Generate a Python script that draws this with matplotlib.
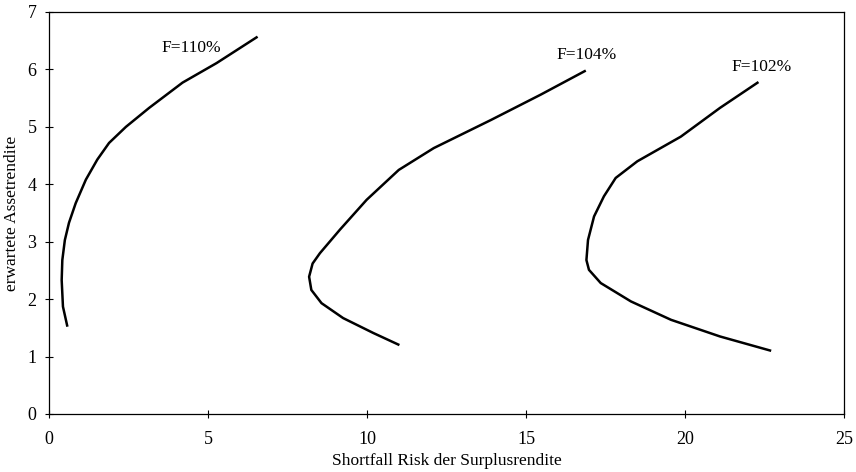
import matplotlib
matplotlib.use("Agg")
import matplotlib.pyplot as plt

plt.rcParams['font.family'] = ['Liberation Serif', 'DejaVu Serif']

# F=110%
x110 = [0.58, 0.44, 0.40, 0.42, 0.50, 0.63, 0.84, 1.16, 1.52, 1.89, 2.42, 3.15, 4.20, 5.27, 6.56]
y110 = [1.52, 1.87, 2.33, 2.68, 3.03, 3.33, 3.67, 4.08, 4.43, 4.72, 5.00, 5.33, 5.77, 6.11, 6.57]

# F=104%
x104 = [11.02, 10.2, 9.25, 8.57, 8.25, 8.18, 8.29, 8.52, 9.15, 9.99, 11.0, 12.1, 13.9, 15.46, 16.88]
y104 = [1.20, 1.41, 1.67, 1.93, 2.16, 2.39, 2.62, 2.80, 3.21, 3.73, 4.25, 4.63, 5.12, 5.56, 5.98]

# F=102%
x102 = [22.71, 21.1, 19.56, 18.3, 17.35, 16.98, 16.9, 16.95, 17.14, 17.45, 17.82, 18.5, 19.87, 21.1, 22.31]
y102 = [1.10, 1.35, 1.64, 1.96, 2.28, 2.51, 2.68, 3.03, 3.44, 3.79, 4.11, 4.40, 4.83, 5.33, 5.78]

labels = ["F=110%", "F=104%", "F=102%"]
label_pos = [(4.47, 6.38), (16.9, 6.25), (22.4, 6.05)]

fig = plt.figure(figsize=(8.56, 4.72), dpi=100)
ax = fig.add_axes([0.0572, 0.1229, 0.9288, 0.8517])

for xs, ys in [(x110, y110), (x104, y104), (x102, y102)]:
    ax.plot(xs, ys, color='black', lw=1.8, solid_capstyle='butt', solid_joinstyle='round')

for txt, (tx, ty) in zip(labels, label_pos):
    ax.text(tx, ty, txt, ha='center', va='center', fontsize=12.5)

ax.set_xlim(0, 25)
ax.set_ylim(0, 7)
ax.set_xticks([0, 5, 10, 15, 20, 25])
ax.set_yticks(range(8))
ax.tick_params(direction='inout', length=6, width=0.8, labelsize=13)
ax.tick_params(axis='x', pad=9)
ax.tick_params(axis='y', pad=6)
for s in ax.spines.values():
    s.set_linewidth(0.9)
ax.set_xlabel("Shortfall Risk der Surplusrendite", fontsize=12.5, labelpad=4)
ax.set_ylabel("erwartete Assetrendite", fontsize=12.5, labelpad=5)

fig.savefig("out.png", dpi=100)
